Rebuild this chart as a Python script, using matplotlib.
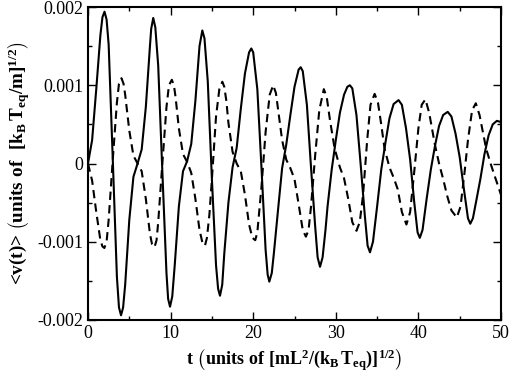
import numpy as np
import matplotlib
matplotlib.use("Agg")
import matplotlib.pyplot as plt
from matplotlib.ticker import MultipleLocator

# solid curve (v in units of 1e-3)
t_solid = [0.0, 0.5, 1.0, 1.5, 1.75, 2.0, 2.25, 2.5, 3.0, 3.5, 3.75, 4.0, 4.25, 4.5, 5.0, 5.5, 6.0,
           6.5, 7.0, 7.5, 7.65, 7.9, 8.15, 8.5, 9.0, 9.5, 9.7, 9.93, 10.2, 10.5, 11.0, 11.5, 12.0,
           12.5, 13.0, 13.5, 13.84, 14.1, 14.5, 15.0, 15.5, 15.75, 15.98, 16.25, 16.5, 17.0, 17.5, 18.0,
           18.5, 19.0, 19.5, 19.77, 20.0, 20.5, 21.0, 21.5, 21.75, 21.95, 22.25, 22.5, 23.0, 23.5, 24.0,
           24.5, 25.0, 25.5, 25.75, 26.0, 26.5, 27.0, 27.5, 27.8, 28.09, 28.4, 28.75, 29.0, 29.5, 29.86,
           30.0, 30.5, 31.0, 31.4, 31.7, 32.0, 32.5, 33.0, 33.5, 33.85, 34.14, 34.5, 35.0, 35.5, 35.9,
           36.0, 36.5, 37.0, 37.6, 38.0, 38.5, 39.0, 39.5, 39.9, 40.17, 40.5, 41.0, 41.5, 42.0, 42.5,
           43.0, 43.55, 44.0, 44.5, 45.0, 45.5, 46.0, 46.28, 46.6, 47.0, 47.5, 48.0, 48.5, 49.0, 49.5, 50.0]
v_solid = [0.0, 0.3, 0.95, 1.64, 1.87, 1.94, 1.84, 1.52, 0.05, -1.45, -1.84, -1.94, -1.84, -1.55, -0.72, -0.17, 0.0,
           0.18, 0.72, 1.5, 1.72, 1.86, 1.74, 1.25, -0.1, -1.4, -1.73, -1.83, -1.7, -1.3, -0.55, -0.1, 0.03,
           0.25, 0.8, 1.5, 1.70, 1.6, 1.05, -0.2, -1.3, -1.6, -1.69, -1.55, -1.15, -0.5, -0.05, 0.2,
           0.7, 1.15, 1.42, 1.47, 1.42, 0.95, -0.05, -1.1, -1.42, -1.51, -1.4, -1.15, -0.6, -0.06, 0.24,
           0.62, 0.98, 1.2, 1.23, 1.18, 0.75, -0.05, -0.8, -1.2, -1.32, -1.2, -0.85, -0.55, -0.08, 0.19,
           0.3, 0.65, 0.88, 0.98, 1.0, 0.96, 0.62, 0.0, -0.65, -1.05, -1.135, -1.0, -0.55, -0.08, 0.19,
           0.26, 0.58, 0.76, 0.81, 0.75, 0.45, 0.05, -0.5, -0.88, -0.95, -0.85, -0.45, -0.08, 0.22, 0.48,
           0.62, 0.66, 0.6, 0.38, 0.08, -0.32, -0.7, -0.77, -0.7, -0.48, -0.2, 0.12, 0.36, 0.5, 0.545, 0.53]

# dashed curve
t_dashed = [0.0, 0.5, 1.0, 1.5, 1.75, 1.98, 2.25, 2.5, 3.0, 3.5, 3.75, 4.05, 4.3, 4.5, 5.0, 5.5, 6.0,
            6.5, 7.0, 7.5, 7.75, 8.05, 8.3, 8.5, 9.0, 9.5, 9.8, 10.15, 10.4, 10.6, 11.0, 11.5, 12.0,
            12.5, 13.0, 13.5, 13.85, 14.16, 14.4, 14.7, 15.0, 15.5, 15.9, 16.26, 16.5, 16.75, 17.0, 17.5, 18.0,
            18.5, 19.0, 19.5, 19.9, 20.25, 20.5, 21.0, 21.5, 22.0, 22.42, 22.75, 23.0, 23.5, 24.0,
            24.5, 25.0, 25.5, 26.0, 26.38, 26.7, 27.0, 27.5, 28.0, 28.55, 28.9, 29.3, 29.86,
            30.5, 31.0, 31.5, 32.0, 32.5, 32.9, 33.3, 33.8, 34.2, 34.7, 35.1, 35.5, 35.9,
            36.5, 37.0, 37.5, 38.0, 38.55, 39.0, 39.5, 40.0, 40.4, 40.85, 41.3, 42.0, 42.5,
            43.0, 43.5, 44.0, 44.65, 45.1, 45.6, 46.0, 46.5, 46.95, 47.4, 48.2, 48.8, 49.3, 50.0]
v_dashed = [0.0, -0.22, -0.62, -0.98, -1.06, -1.08, -1.0, -0.72, 0.05, 0.78, 1.02, 1.09, 1.02, 0.88, 0.42, 0.1, 0.0,
            -0.1, -0.45, -0.9, -1.03, -1.07, -0.98, -0.75, 0.0, 0.72, 1.0, 1.07, 1.0, 0.85, 0.45, 0.12, 0.02,
            -0.12, -0.45, -0.85, -1.01, -1.05, -0.95, -0.65, -0.2, 0.6, 0.95, 1.045, 0.98, 0.8, 0.52, 0.15, 0.0,
            -0.1, -0.4, -0.78, -0.95, -0.98, -0.88, -0.3, 0.4, 0.88, 1.0, 0.9, 0.7, 0.3, 0.05,
            -0.06, -0.2, -0.52, -0.85, -0.935, -0.85, -0.55, 0.1, 0.68, 0.95, 0.85, 0.55, 0.19,
            -0.05, -0.19, -0.45, -0.75, -0.86, -0.75, -0.4, 0.3, 0.75, 0.89, 0.78, 0.5, 0.19,
            -0.05, -0.18, -0.33, -0.62, -0.78, -0.62, -0.1, 0.45, 0.75, 0.82, 0.65, 0.24, 0.0,
            -0.2, -0.42, -0.6, -0.69, -0.55, -0.1, 0.3, 0.68, 0.77, 0.62, 0.19, -0.02, -0.18, -0.40]

plt.rcParams['font.family'] = 'Liberation Serif'
plt.rcParams['mathtext.fontset'] = 'custom'
plt.rcParams['mathtext.rm'] = 'Liberation Serif:bold'
plt.rcParams['mathtext.it'] = 'Liberation Serif:bold'
plt.rcParams['mathtext.bf'] = 'Liberation Serif:bold'
plt.rcParams['mathtext.default'] = 'bf'

fig = plt.figure(figsize=(5.11, 3.82), dpi=100)
ax = fig.add_axes([88/511, 1-320/382, 413/511, 313/382])

ax.plot(t_solid, np.array(v_solid)*1e-3, color='black', lw=1.5)
ax.plot(t_dashed, np.array(v_dashed)*1e-3, color='black', lw=1.5, dashes=(4, 2.5))

ax.set_xlim(0, 50)
ax.set_ylim(-0.002, 0.002)
ax.xaxis.set_major_locator(MultipleLocator(10))
ax.xaxis.set_minor_locator(MultipleLocator(5))
ax.yaxis.set_minor_locator(MultipleLocator(0.0005))
ax.set_yticks([-0.002, -0.001, 0, 0.001, 0.002])
ax.set_yticklabels(['-0.002', '-0.001', '0', '0.001', '0.002'])
ax.tick_params(which='both', direction='in', top=True, right=True, labelsize=13)
ax.tick_params(which='major', length=6, width=1)
ax.tick_params(which='minor', length=3, width=1)
for s in ax.spines.values():
    s.set_linewidth(1.5)

ax.set_xlabel(r'$t\ \left(units\ of\ [mL^2/(k_B\,T_{eq})]^{1/2}\right)$', fontsize=13)
ax.set_ylabel('<v(t)> ' + r'$\left(units\ of\ \ [k_B\,T_{eq}/m]^{1/2}\right)$',
              fontsize=13.8, fontweight='bold')

fig.savefig('out.png', dpi=100)
